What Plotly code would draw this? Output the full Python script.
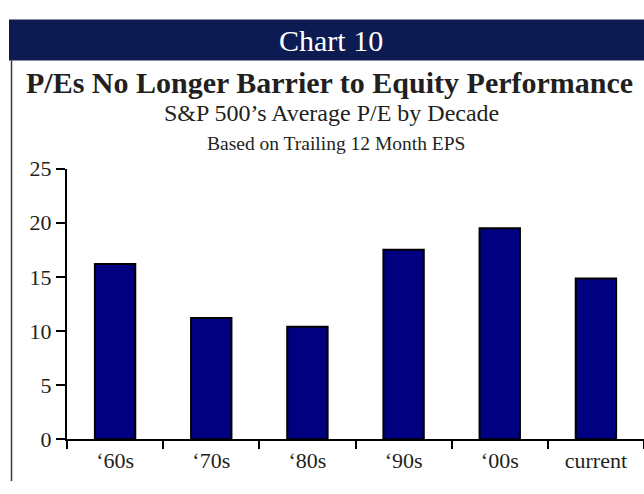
import plotly.graph_objects as go

# S&P 500 average trailing P/E by decade
decades = ["\u201860s", "\u201870s", "\u201880s", "\u201890s", "\u201800s", "current"]
avg_pe = [16.2, 11.2, 10.4, 17.5, 19.5, 14.85]
y_ticks = [0, 5, 10, 15, 20, 25]

W, H = 644, 494
NAVY = "#000080"
HEADER = "#0c1b52"
INK = "#231f20"
SERIF = "Liberation Serif, Times New Roman, serif"


def px(x):
    return x / W


def py(y):
    return 1 - y / H


def label(text, x, y, size, color=INK):
    return dict(text=text, xref="paper", yref="paper", x=px(x), y=py(y),
                xanchor="center", yanchor="middle", showarrow=False,
                font=dict(size=size, color=color, family=SERIF))


fig = go.Figure()
fig.add_trace(go.Bar(
    x=decades, y=avg_pe,
    marker=dict(color=NAVY, line=dict(color="black", width=2)),
    showlegend=False,
))

fig.update_layout(
    width=W, height=H,
    margin=dict(l=0, r=0, t=0, b=0),
    paper_bgcolor="white", plot_bgcolor="white",
    bargap=0.58,
    font=dict(family=SERIF, color=INK, size=22),
    xaxis=dict(
        domain=[px(67), 1],
        type="category",
        tickson="boundaries",
        ticks="outside", ticklen=8, tickwidth=2, tickcolor="black",
        showline=True, linecolor="black", linewidth=2,
        showgrid=False, zeroline=False,
        tickfont=dict(size=22, family=SERIF, color=INK),
    ),
    yaxis=dict(
        domain=[py(450), py(165)],
        range=[0, 25],
        tickvals=y_ticks,
        ticks="outside", ticklen=9, tickwidth=2, tickcolor="black",
        showline=True, linecolor="black", linewidth=2,
        showgrid=False, zeroline=False,
        tickfont=dict(size=22, family=SERIF, color=INK),
    ),
    shapes=[
        dict(type="rect", xref="paper", yref="paper",
             x0=px(9), x1=1, y0=py(51), y1=py(8),
             fillcolor=HEADER, line=dict(width=0), layer="below"),
        dict(type="line", xref="paper", yref="paper",
             x0=px(11.5), x1=px(11.5), y0=0, y1=py(51),
             line=dict(color="#3a3a3a", width=1.5)),
    ],
    annotations=[
        label("Chart 10", 331, 30, 30, "white"),
        label("<b>P/Es No Longer Barrier to Equity Performance</b>", 329, 74, 30),
        label("S&P 500\u2019s Average P/E by Decade", 331, 106, 24),
        label("Based on Trailing 12 Month EPS", 336, 138, 19.5),
    ],
)

fig.write_html("out.html", post_script="document.body.style.margin='0';",
               config={"displayModeBar": False})
